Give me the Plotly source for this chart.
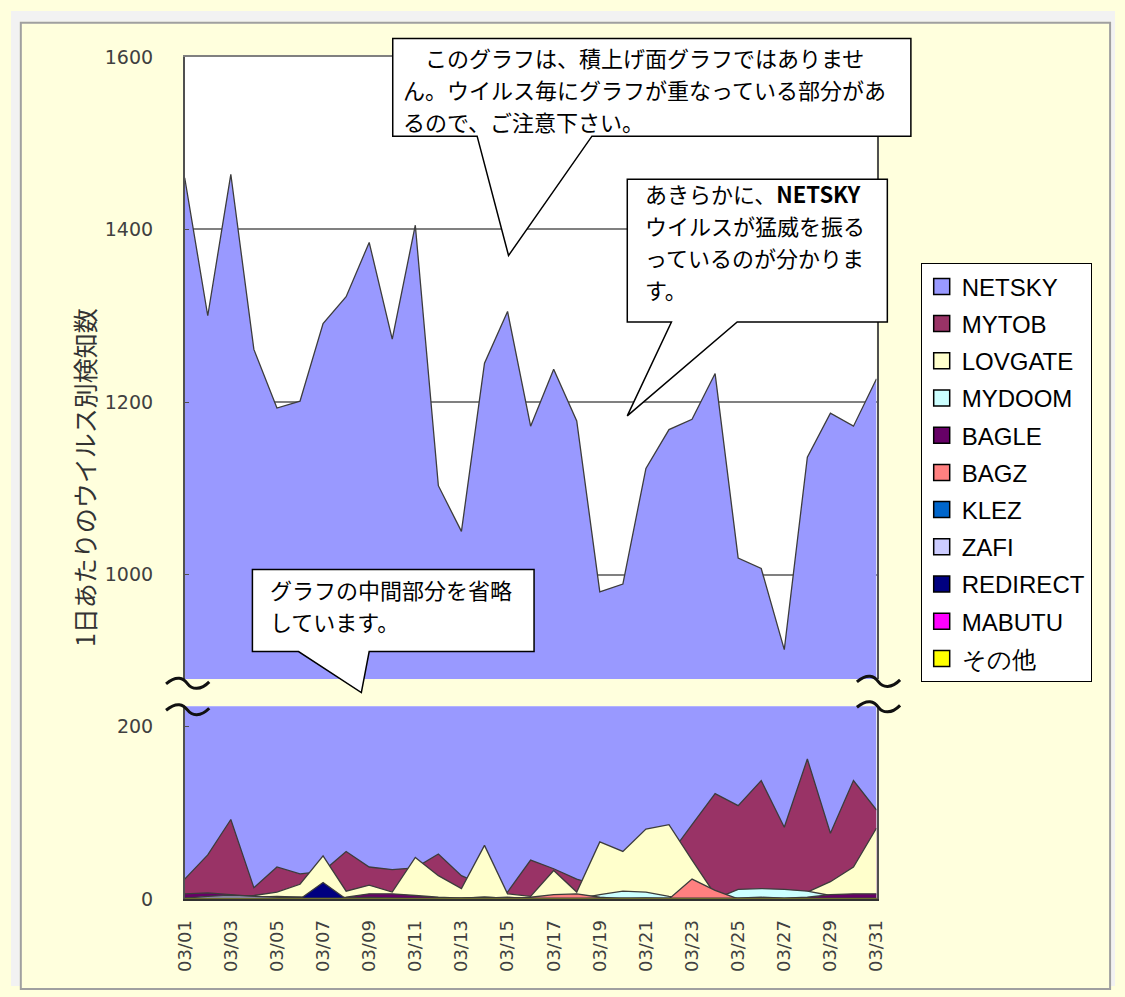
import plotly.graph_objects as go

W, H = 1125, 997

# ---- data -----------------------------------------------------------------
days = ["03/01", "03/02", "03/03", "03/04", "03/05", "03/06", "03/07", "03/08",
        "03/09", "03/10", "03/11", "03/12", "03/13", "03/14", "03/15", "03/16",
        "03/17", "03/18", "03/19", "03/20", "03/21", "03/22", "03/23", "03/24",
        "03/25", "03/26", "03/27", "03/28", "03/29", "03/30", "03/31"]

netsky = [1460, 1300, 1464, 1261, 1193, 1201, 1291, 1322, 1385, 1273, 1405,
          1103, 1050, 1245, 1305, 1172, 1238, 1178, 980, 989, 1123, 1168,
          1180, 1233, 1019, 1007, 913, 1136, 1187, 1172, 1227]
mytob = [23, 51, 92, 13, 37, 29, 32, 55, 37, 34, 36, 52, 27, 15, 8, 45,
         35, 23, 15, 20, 30, 50, 86, 122, 108, 137, 83, 162, 76, 137, 103]
lovgate = [2, 3, 2, 4, 8, 17, 50, 9, 16, 8, 48, 27, 12, 62, 6, 3,
           33, 8, 66, 55, 81, 86, 45, 5, 2, 2, 3, 8, 20, 37, 82]
mydoom = [0, 0, 1, 2, 3, 2, 0, 0, 0, 0, 0, 0, 0, 1, 2, 0,
          0, 0, 5, 9, 8, 3, 0, 0, 11, 12, 11, 9, 4, 0, 0]
bagle = [6, 7, 5, 3, 2, 2, 1, 2, 6, 6, 4, 2, 1, 2, 1, 1,
         2, 1, 0, 0, 1, 1, 0, 0, 1, 2, 1, 2, 5, 6, 6]
bagz = [0, 0, 0, 0, 0, 0, 0, 0, 0, 0, 0, 0, 0, 0, 0, 2,
        5, 6, 2, 0, 0, 0, 23, 10, 0, 0, 0, 0, 0, 0, 0]
klez = [0, 0, 0, 0, 0, 0, 0, 0, 0, 0, 0, 0, 0, 0, 0, 0,
        0, 0, 0, 0, 0, 0, 0, 0, 0, 0, 0, 0, 0, 0, 0]
zafi = [1, 3, 4, 3, 2, 1, 0, 1, 2, 1, 0, 0, 1, 2, 1, 0,
        0, 0, 1, 1, 1, 0, 0, 0, 0, 0, 0, 0, 0, 0, 0]
redirect = [0, 0, 0, 0, 0, 0, 19, 0, 0, 0, 0, 0, 0, 0, 0, 0,
            0, 0, 0, 0, 0, 0, 0, 0, 0, 0, 0, 0, 0, 0, 0]
mabutu = [0, 0, 0, 0, 0, 0, 0, 0, 0, 0, 0, 0, 0, 0, 0, 0,
          0, 0, 0, 0, 0, 0, 0, 0, 0, 0, 0, 0, 0, 0, 0]
others = [1, 1, 1, 1, 1, 1, 1, 1, 1, 1, 1, 1, 1, 1, 1, 1,
          1, 1, 1, 1, 1, 1, 1, 1, 1, 1, 1, 1, 1, 1, 1]

series_names = ["NETSKY", "MYTOB", "LOVGATE", "MYDOOM", "BAGLE", "BAGZ",
                "KLEZ", "ZAFI", "REDIRECT", "MABUTU", "その他"]
series_values = [netsky, mytob, lovgate, mydoom, bagle, bagz,
                 klez, zafi, redirect, mabutu, others]
series_colors = ["#9999FF", "#993366", "#FFFFCC", "#CCFFFF", "#660066",
                 "#FF8080", "#0066CC", "#CCCCFF", "#000080", "#FF00FF",
                 "#FFFF00"]

upper_ticks = [1000, 1200, 1400, 1600]
lower_ticks = [0, 200]
x_ticks = days[::2]


# ---- helpers: pixel -> paper (margins are zero) ---------------------------
def px(x):
    return x / W


def py(y):
    return 1 - y / H


def poly(points):
    return "M " + " L ".join(f"{px(x):.5f},{py(y):.5f}" for x, y in points) + " Z"


fig = go.Figure()

# area series, drawn in both halves of the broken axis
for name, vals, col in zip(series_names, series_values, series_colors):
    for xa, ya in (("x", "y"), ("x2", "y2")):
        fig.add_trace(go.Scatter(
            x=days, y=vals, xaxis=xa, yaxis=ya, mode="lines",
            fill="tozeroy", fillcolor=col,
            line=dict(color="#3c3c3c", width=1.3),
            showlegend=False, hoverinfo="skip"))

# legend entries with square swatches
for name, col in zip(series_names, series_colors):
    fig.add_trace(go.Scatter(
        x=[None], y=[None], xaxis="x2", yaxis="y2", mode="markers",
        marker=dict(symbol="square", size=16, color=col,
                    line=dict(color="black", width=1.5)),
        name=name, legendgroup=name, showlegend=True))

x_dom = [px(177), px(882)]
top_dom = [py(683), py(47)]
bot_dom = [py(908), py(711)]

axis_font = dict(family="DejaVu Sans", size=19, color="#404040")

fig.update_layout(
    width=W, height=H,
    margin=dict(l=0, r=0, t=0, b=0),
    paper_bgcolor="#FFFFDD",
    plot_bgcolor="#FFFFFF",
    showlegend=True,
    legend=dict(
        x=px(927), y=py(258), xanchor="left", yanchor="top",
        bgcolor="#FFFFFF", bordercolor="#000000", borderwidth=1,
        font=dict(family="Liberation Sans", size=24, color="#000000"),
        tracegroupgap=3, traceorder="grouped",
    ),
    xaxis=dict(
        domain=x_dom, anchor="y", type="category", categoryorder="array",
        categoryarray=days, range=[0, 30], side="top",
        showgrid=False, showticklabels=False, ticks="",
        showline=True, linecolor="#808080", linewidth=1.5, zeroline=False,
    ),
    yaxis=dict(
        domain=top_dom, anchor="x", range=[879, 1600],
        tickvals=upper_ticks, ticktext=[str(v) for v in upper_ticks],
        showgrid=True, gridcolor="#808080", gridwidth=1.5, zeroline=False,
        showline=True, mirror=True, linecolor="#505050", linewidth=1.5,
        ticks="inside", ticklen=5, tickcolor="#505050",
        ticklabelstandoff=26, tickfont=axis_font,
    ),
    xaxis2=dict(
        domain=x_dom, anchor="y2", type="category", categoryorder="array",
        categoryarray=days, range=[0, 30],
        tickvals=x_ticks, ticktext=x_ticks, tickangle=-90,
        showgrid=False, ticks="", zeroline=False,
        showline=True, linecolor="#303030", linewidth=2,
        ticklabelstandoff=12,
        tickfont=dict(family="DejaVu Sans", size=18, color="#404040"),
    ),
    yaxis2=dict(
        domain=bot_dom, anchor="x2", range=[0, 223],
        tickvals=lower_ticks, ticktext=[str(v) for v in lower_ticks],
        showgrid=False, zeroline=False,
        showline=True, mirror=True, linecolor="#505050", linewidth=1.5,
        ticks="inside", ticklen=5, tickcolor="#505050",
        ticklabelstandoff=26, tickfont=axis_font,
    ),
)

shapes = []
# outer window frame
shapes.append(dict(type="rect", xref="paper", yref="paper", layer="below",
                   x0=0, x1=1, y0=py(11), y1=1,
                   fillcolor="#F2F2F2", line=dict(width=0)))
shapes.append(dict(type="rect", xref="paper", yref="paper", layer="below",
                   x0=0, x1=px(9), y0=0, y1=1,
                   fillcolor="#F2F2F2", line=dict(width=0)))
shapes.append(dict(type="rect", xref="paper", yref="paper", layer="below",
                   x0=px(1121), x1=1, y0=0, y1=1,
                   fillcolor="#F2F2F2", line=dict(width=0)))
shapes.append(dict(type="rect", xref="paper", yref="paper", layer="above",
                   x0=px(10), x1=px(1120), y0=py(1000), y1=py(12),
                   fillcolor="rgba(0,0,0,0)",
                   line=dict(color="#A0A0A0", width=2)))


# axis-break marks
def tilde(x0, y0, w):
    return (f"M {px(x0):.5f},{py(y0):.5f} "
            f"C {px(x0 + w * 0.25):.5f},{py(y0 - 9):.5f} "
            f"{px(x0 + w * 0.4):.5f},{py(y0 - 6):.5f} "
            f"{px(x0 + w * 0.5):.5f},{py(y0):.5f} "
            f"S {px(x0 + w * 0.8):.5f},{py(y0 + 7):.5f} "
            f"{px(x0 + w):.5f},{py(y0 - 2):.5f}")


for (bx, by) in [(158, 688), (158, 715), (862, 686), (862, 712)]:
    shapes.append(dict(type="path", xref="paper", yref="paper", layer="above",
                       path=tilde(bx, by, 44),
                       line=dict(color="#111111", width=3)))

# callout balloons
callouts = [
    [(389, 28), (917, 28), (917, 128), (592, 128), (507, 250), (475, 128),
     (389, 128)],
    [(628, 172), (893, 172), (893, 318), (740, 318), (628, 414), (673, 318),
     (628, 318)],
    [(246, 571), (533, 571), (533, 655), (365, 655), (357, 697), (293, 655),
     (246, 655)],
]
for pts in callouts:
    shapes.append(dict(type="path", xref="paper", yref="paper", layer="above",
                       path=poly(pts), fillcolor="#FFFFFF",
                       line=dict(color="#000000", width=1.5)))

fig.update_layout(shapes=shapes)

# callout texts: one annotation per line, fixed line pitch
jp = "Noto Sans CJK JP"
pitch = 32.5
note_blocks = [
    (["\u3000このグラフは、積上げ面グラフではありませ",
      "ん。ウイルス毎にグラフが重なっている部分があ",
      "るので、ご注意下さい。"], 398, 47.5),
    (["あきらかに、<b>NETSKY</b>",
      "ウイルスが猛威を振る",
      "っているのが分かりま",
      "す。"], 645, 186.5),
    (["グラフの中間部分を省略",
      "しています。"], 263, 591),
]
annotations = []
for lines, x, y0 in note_blocks:
    for i, line in enumerate(lines):
        annotations.append(dict(
            text=line, xref="paper", yref="paper", x=px(x),
            y=py(y0 + i * pitch), xanchor="left", yanchor="middle",
            showarrow=False, borderpad=0,
            font=dict(family=jp, size=22, color="#000000")))

annotations.append(dict(
    text="1日あたりのウイルス別検知数", xref="paper", yref="paper",
    x=px(75), y=py(477), xanchor="center", yanchor="middle",
    textangle=-90, showarrow=False,
    font=dict(family=jp, size=25, color="#333333")))

fig.update_layout(annotations=annotations)

fig.write_html("out.html")
